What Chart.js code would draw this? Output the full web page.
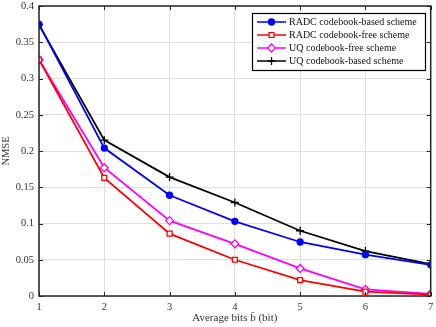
<!DOCTYPE html>
<html><head><meta charset="utf-8">
<script src="https://cdn.jsdelivr.net/npm/chart.js@4/dist/chart.umd.min.js"></script>
<style>html,body{margin:0;padding:0;background:#fff}#c{display:block}</style>
</head><body>
<canvas id="c" width="436" height="327"></canvas>
<script>
const bits = [1, 2, 3, 4, 5, 6, 7];
const radcBased = [0.375, 0.204, 0.139, 0.103, 0.0745, 0.057, 0.043];
const radcFree = [0.326, 0.163, 0.086, 0.050, 0.022, 0.006, 0.002];
const uqFree = [0.326, 0.177, 0.104, 0.072, 0.038, 0.009, 0.003];
const uqBased = [0.374, 0.215, 0.164, 0.129, 0.090, 0.062, 0.044];
const yTicks = [0, 0.05, 0.1, 0.15, 0.2, 0.25, 0.3, 0.35, 0.4];
const names = ['RADC codebook-based scheme', 'RADC codebook-free scheme', 'UQ codebook-free scheme', 'UQ codebook-based scheme'];
const FONT = '"Liberation Serif", "Times New Roman", serif';

function pts(arr){ return bits.map((b,i)=>({x:b,y:arr[i]})); }

const boxPlugin = {
  id: 'box',
  afterDatasetsDraw(chart){
    const {ctx, chartArea:a, scales} = chart;
    ctx.save();
    ctx.strokeStyle = '#262626'; ctx.lineWidth = 1;
    ctx.beginPath();
    bits.forEach(b=>{ const x = Math.round(scales.x.getPixelForValue(b))+0.5;
      ctx.moveTo(x,a.bottom); ctx.lineTo(x,a.bottom-4); ctx.moveTo(x,a.top); ctx.lineTo(x,a.top+4); });
    yTicks.forEach(v=>{ const y = Math.round(scales.y.getPixelForValue(v))+0.5;
      ctx.moveTo(a.left,y); ctx.lineTo(a.left+4,y); ctx.moveTo(a.right,y); ctx.lineTo(a.right-4,y); });
    ctx.stroke();
    ctx.lineWidth = 1.5;
    ctx.strokeRect(a.left, a.top, a.right-a.left, a.bottom-a.top);
    // legend
    const lx = 252, ly = 13, lw = 173, lh = 57;
    ctx.fillStyle = '#fff'; ctx.fillRect(lx, ly, lw, lh);
    ctx.strokeStyle = '#000'; ctx.lineWidth = 1.2; ctx.strokeRect(lx+0.5, ly+0.5, lw, lh);
    ctx.font = '10px ' + FONT; ctx.textBaseline = 'middle'; ctx.textAlign = 'left';
    chart.data.datasets.forEach((ds,i)=>{
      const y = ly + 9 + i*13;
      ctx.strokeStyle = ds.borderColor; ctx.lineWidth = 1.5;
      ctx.beginPath(); ctx.moveTo(lx+5, y); ctx.lineTo(lx+34, y); ctx.stroke();
      ctx.fillStyle = ds.pointBackgroundColor;
      ctx.lineWidth = 1.3;
      Chart.helpers.drawPoint(ctx, {pointStyle: ds.pointStyle, radius: ds.pointRadius, borderWidth: 1.3}, lx+19.5, y);
      ctx.fillStyle = '#111';
      ctx.fillText(ds.label, lx+37, y+0.5);
    });
    ctx.restore();
  }
};

const mk = (label, data, color, style, radius, fill) => ({
  label, data: pts(data), borderColor: color, backgroundColor: color,
  pointStyle: style, pointRadius: radius, pointBorderColor: color,
  pointBackgroundColor: fill ? color : '#fff', pointBorderWidth: 1.3,
  borderWidth: 1.8, tension: 0, fill: false
});

new Chart(document.getElementById('c'), {
  type: 'line',
  data: { datasets: [
    mk(names[0], radcBased, '#0000ff', 'circle', 3, true),
    mk(names[1], radcFree, '#ff0000', 'rect', 3.5, false),
    mk(names[2], uqFree, '#ff00ff', 'rectRot', 4, false),
    mk(names[3], uqBased, '#000000', 'cross', 4, false)
  ]},
  options: {
    responsive: false, animation: false, devicePixelRatio: 1,
    layout: { padding: { top: 6, right: 3, left: 0, bottom: 0 } },
    plugins: { legend: { display: false }, tooltip: { enabled: false } },
    scales: {
      x: { type: 'linear', min: 1, max: 7,
        afterBuildTicks(s){ s.ticks = bits.map(v=>({value:v})); },
        afterFit(s){ s.height = 31; s.paddingLeft = 0; s.paddingRight = 0; },
        grid: { color: '#dfdfdf', lineWidth: 1, drawTicks: false },
        border: { display: false },
        ticks: { color: '#333', font: { family: FONT, size: 10.5 }, padding: 5, maxRotation: 0 },
        title: { display: true, text: 'Average bits b\u0304 (bit)', color: '#333', font: { family: FONT, size: 11 }, padding: { top: 0, bottom: 2 } }
      },
      y: { type: 'linear', min: 0, max: 0.4,
        afterBuildTicks(s){ s.ticks = yTicks.map(v=>({value:v})); },
        afterFit(s){ s.width = 39; s.paddingTop = 0; s.paddingBottom = 0; },
        grid: { color: '#dfdfdf', lineWidth: 1, drawTicks: false },
        border: { display: false },
        ticks: { color: '#333', font: { family: FONT, size: 10.5 }, padding: 5, callback: v => String(+v.toFixed(2)) },
        title: { display: true, text: 'NMSE', color: '#333', font: { family: FONT, size: 10.5 }, padding: { top: 0, bottom: 4 } }
      }
    }
  },
  plugins: [boxPlugin]
});
</script>
</body></html>
